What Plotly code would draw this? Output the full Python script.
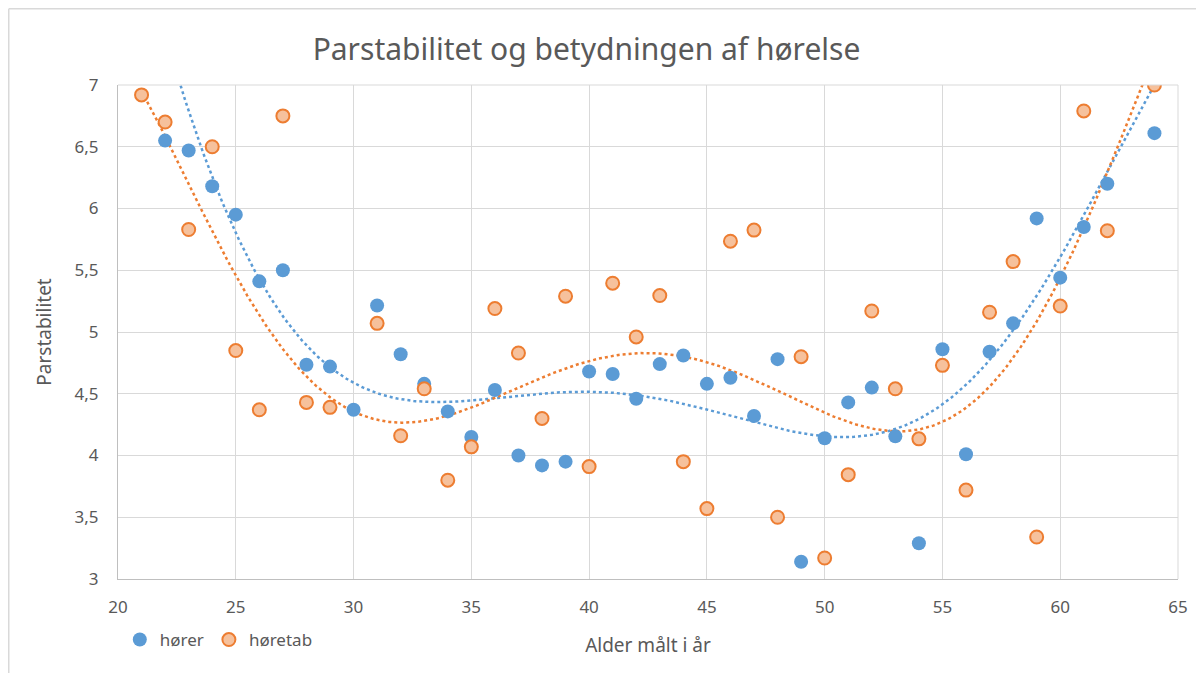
import numpy as np
import plotly.graph_objects as go

# hører (blue); ages 21 and 63 lie above the visible axis maximum (estimated from the trendline)
hoerer_x = [21, 22, 23, 24, 25, 26, 27, 28, 29, 30, 31, 32, 33, 34, 35, 36, 37, 38, 39, 40, 41, 42,
            43, 44, 45, 46, 47, 48, 49, 50, 51, 52, 53, 54, 55, 56, 57, 58, 59, 60, 61, 62, 63, 64]
hoerer_y = [8.9, 6.55, 6.47, 6.18, 5.95, 5.41, 5.50, 4.735, 4.72, 4.37, 5.215, 4.82, 4.58, 4.357,
            4.15, 4.53, 4.00, 3.92, 3.95, 4.68, 4.66, 4.46, 4.74, 4.81, 4.58, 4.63, 4.32, 4.78,
            3.14, 4.14, 4.43, 4.55, 4.155, 3.29, 4.86, 4.01, 4.84, 5.07, 5.92, 5.44, 5.85, 6.20,
            7.2, 6.61]

# høretab (orange); age 30 lies below and age 63 above the visible axis range (estimated)
hoeretab_x = [21, 22, 23, 24, 25, 26, 27, 28, 29, 30, 31, 32, 33, 34, 35, 36, 37, 38, 39, 40, 41,
              42, 43, 44, 45, 46, 47, 48, 49, 50, 51, 52, 53, 54, 55, 56, 57, 58, 59, 60, 61, 62,
              63, 64]
hoeretab_y = [6.92, 6.70, 5.83, 6.50, 4.85, 4.37, 6.75, 4.43, 4.39, 2.9, 5.07, 4.16, 4.54, 3.80,
              4.07, 5.19, 4.83, 4.30, 5.29, 3.91, 5.395, 4.96, 5.295, 3.95, 3.57, 5.735, 5.825,
              3.50, 4.80, 3.17, 3.845, 5.17, 4.54, 4.135, 4.73, 3.72, 5.16, 5.57, 3.34, 5.21,
              6.79, 5.82, 7.3, 7.0]

x_ticks = [20, 25, 30, 35, 40, 45, 50, 55, 60, 65]
y_ticks = [3, 3.5, 4, 4.5, 5, 5.5, 6, 6.5, 7]

BLUE = "#5B9BD5"
ORANGE = "#ED7D31"
TXT = "#595959"
FONT = "Noto Sans"
DEG = 6  # polynomial trendline order

W, H = 1196, 665
L, T, R, B = 110, 77, 26, 94
PW, PH = W - L - R, H - T - B


def trend(xs, ys, deg):
    c = np.polyfit(xs, ys, deg)
    xx = np.linspace(min(xs), max(xs), 500)
    return xx, np.polyval(c, xx)


fig = go.Figure()

bx, by = trend(hoerer_x, hoerer_y, DEG)
ox, oy = trend(hoeretab_x, hoeretab_y, DEG)

fig.add_trace(go.Scatter(x=bx, y=by, mode="lines", showlegend=False, hoverinfo="skip",
                         line=dict(color=BLUE, width=2.5, dash="dot")))
fig.add_trace(go.Scatter(x=ox, y=oy, mode="lines", showlegend=False, hoverinfo="skip",
                         line=dict(color=ORANGE, width=2.5, dash="dot")))

fig.add_trace(go.Scatter(x=hoerer_x, y=hoerer_y, mode="markers", name="hører",
                         marker=dict(symbol="circle", size=14, color=BLUE,
                                     line=dict(width=0))))
fig.add_trace(go.Scatter(x=hoeretab_x, y=hoeretab_y, mode="markers", name="høretab",
                         marker=dict(symbol="circle", size=13, color="#F6C19C",
                                     line=dict(width=2, color=ORANGE))))

fig.update_layout(
    width=W, height=H,
    paper_bgcolor="white", plot_bgcolor="white",
    margin=dict(l=L, r=R, t=T, b=B),
    separators=", ",
    font=dict(family=FONT, color=TXT, size=17),
    title=dict(text="Parstabilitet og betydningen af hørelse",
               font=dict(family=FONT, size=30, color=TXT),
               x=578.5 / W, xanchor="center", xref="container",
               y=1 - 41 / H, yanchor="middle", yref="container"),
    xaxis=dict(range=[20, 65], tickvals=x_ticks, showgrid=True, gridcolor="#D9D9D9",
               gridwidth=1, zeroline=False, showline=True, linecolor="#BFBFBF", linewidth=1,
               ticks="outside", ticklen=13, tickcolor="rgba(0,0,0,0)",
               tickfont=dict(size=17, color=TXT), mirror=False,
               title=dict(text="Alder målt i år", font=dict(size=19, color=TXT), standoff=21)),
    yaxis=dict(range=[3, 7], tickvals=y_ticks, showgrid=True, gridcolor="#D9D9D9",
               gridwidth=1, zeroline=False, showline=True, linecolor="#BFBFBF", linewidth=1,
               ticks="outside", ticklen=15, tickcolor="rgba(0,0,0,0)",
               tickfont=dict(size=17, color=TXT),
               title=dict(text="Parstabilitet", font=dict(size=19, color=TXT), standoff=17)),
    legend=dict(orientation="h", x=0.0017, xanchor="left", y=-(632 - (H - B)) / PH,
                yanchor="middle", font=dict(size=17, color=TXT), itemwidth=30,
                tracegroupgap=0, bgcolor="rgba(0,0,0,0)"),
    showlegend=True,
)

# right & top border lines of plot area
fig.add_shape(type="line", xref="paper", yref="paper", x0=1, x1=1, y0=0, y1=1,
              line=dict(color="#D9D9D9", width=1))
fig.add_shape(type="line", xref="paper", yref="paper", x0=0, x1=1, y0=1, y1=1,
              line=dict(color="#D9D9D9", width=1))

# outer chart border (top & left visible)
fig.add_shape(type="line", xref="paper", yref="paper",
              x0=(0.75 - L) / PW, x1=(W - L) / PW,
              y0=(H - B - 0.75) / PH, y1=(H - B - 0.75) / PH,
              line=dict(color="#D9D9D9", width=1.5))
fig.add_shape(type="line", xref="paper", yref="paper",
              x0=(0.75 - L) / PW, x1=(0.75 - L) / PW,
              y0=(H - B - 0.75) / PH, y1=-(B + 5) / PH,
              line=dict(color="#D9D9D9", width=1.5))

fig.write_html("out.html")
